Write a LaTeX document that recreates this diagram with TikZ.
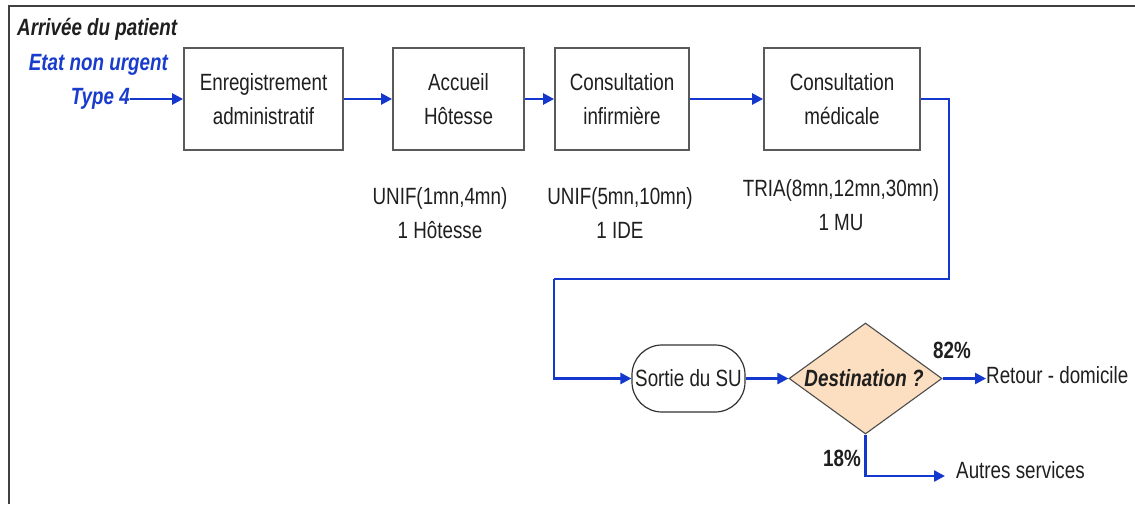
\documentclass[tikz,border=0pt]{standalone}
\usepackage{fontspec}
\setmainfont[FakeStretch=0.8]{Liberation Sans}
\usetikzlibrary{shapes.geometric,arrows.meta}
\definecolor{flowblue}{RGB}{20,55,205}
\definecolor{txtblue}{RGB}{25,60,205}
\definecolor{peach}{RGB}{252,222,192}
\definecolor{boxgray}{RGB}{90,90,90}
\begin{document}
\begin{tikzpicture}[x=1pt,y=-1pt,
  every node/.style={font=\fontsize{23.5}{34}\selectfont, text=black!88},
  stepbox/.style={draw=boxgray, line width=1.8pt, fill=white, align=center, inner sep=0pt},
  flow/.style={draw=flowblue, line width=2.4pt, -{Triangle[length=11pt,width=11pt]}},
  flowline/.style={draw=flowblue, line width=2.4pt},
  info/.style={align=center, inner sep=0pt},
  pct/.style={font=\fontsize{23.5}{34}\selectfont\bfseries, inner sep=0pt}
]
\useasboundingbox (0,0) rectangle (1135,504);
\fill[white] (0,0) rectangle (1135,504);
% frame
\draw[line width=2.6pt, color=black!75] (1135,6) -- (9,6) -- (9,504);

% titles
\node[anchor=west, inner sep=0pt, font=\fontsize{23.5}{34}\selectfont\bfseries\itshape] (arr) at (17,29) {Arrivée du patient};
\node[anchor=east, inner sep=0pt, text=txtblue, font=\fontsize{23.5}{34}\selectfont\bfseries\itshape] (etat) at (168,65) {Etat non urgent};
\node[anchor=east, inner sep=0pt, text=txtblue, font=\fontsize{23.5}{34}\selectfont\bfseries\itshape] (t4) at (130,99) {Type 4};

% boxes
\node[stepbox, minimum width=159pt, minimum height=102pt] (b1) at (263.5,99) {Enregistrement\\administratif};
\node[stepbox, minimum width=131pt, minimum height=102pt] (b2) at (458.5,99) {Accueil\\Hôtesse};
\node[stepbox, minimum width=134pt, minimum height=102pt] (b3) at (622,99) {Consultation\\infirmière};
\node[stepbox, minimum width=156pt, minimum height=102pt] (b4) at (842,99) {Consultation\\médicale};

% info
\node[info] (i2) at (440,213) {UNIF(1mn,4mn)\\1 Hôtesse};
\node[info] (i3) at (620,213) {UNIF(5mn,10mn)\\1 IDE};
\node[info] (i4) at (841,205) {TRIA(8mn,12mn,30mn)\\1 MU};

% lower part
\node[draw=black!80, line width=1.2pt, fill=white, rounded corners=30pt, minimum width=113pt, minimum height=67pt, inner sep=0pt] (sortie) at (688.5,378.5) {Sortie du SU};
\node[diamond, draw=black!70, line width=1.1pt, fill=peach, minimum width=153pt, minimum height=111pt, inner sep=0pt] (dest) at (865.5,378.5) {};
\node[inner sep=0pt, font=\fontsize{23.5}{34}\selectfont\bfseries\itshape] (destt) at (864,378) {Destination ?};
\node[anchor=west, inner sep=0pt] (retour) at (986,375) {Retour - domicile};
\node[anchor=west, inner sep=0pt] (autres) at (956,470) {Autres services};
\node[pct] (p82) at (952,350) {82\%};
\node[pct] (p18) at (842,458) {18\%};

\coordinate (ca) at (949,279);
\coordinate (cb) at (554,279);
\coordinate (cend) at (945,476);

% connectors
\draw[flow] (t4.east) -- (b1.west);
\draw[flow] (b1.east) -- (b2.west);
\draw[flow] (b2.east) -- (b3.west);
\draw[flow] (b3.east) -- (b4.west);
\draw[flowline] (b4.east) -| (ca) -- (cb);
\draw[flow] (cb) |- (sortie.west);
\draw[flow] (sortie.east) -- (dest.west);
\draw[flow] (dest.east) -- (retour.west |- dest.east);
\draw[flow] (dest.south) |- (cend);
\end{tikzpicture}
\end{document}
